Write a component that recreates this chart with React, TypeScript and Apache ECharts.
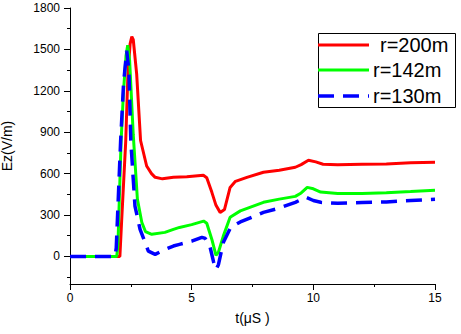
import React, { useEffect, useRef } from "react";
import * as echarts from "echarts";

const redT = [0, 2.0, 2.05, 2.12, 2.29, 2.38, 2.47, 2.54, 2.6, 2.74, 2.9, 3.15, 3.35, 3.5, 3.8, 4.25, 4.8, 5.48, 5.62, 5.83, 6.0, 6.17, 6.35, 6.58, 6.8, 7.27, 7.95, 8.6, 9.26, 9.5, 9.8, 10.1, 10.4, 11, 12, 13, 14, 15];
const redV = [0, 0, 0, 250, 834, 1321, 1540, 1592, 1570, 1321, 840, 655, 600, 573, 562, 573, 578, 588, 570, 464, 370, 319, 340, 500, 544, 573, 610, 625, 646, 665, 697, 685, 668, 665, 668, 670, 678, 682];

const greenT = [0, 1.92, 1.97, 2.1, 2.2, 2.3, 2.37, 2.45, 2.6, 2.77, 2.95, 3.1, 3.36, 3.9, 4.25, 4.5, 5.0, 5.49, 5.62, 5.83, 6.0, 6.1, 6.3, 6.58, 7.0, 7.95, 8.6, 9.26, 9.5, 9.75, 10.0, 10.3, 11, 12, 13, 14, 15];
const greenV = [0, 0, 80, 834, 1200, 1450, 1530, 1420, 880, 414, 247, 180, 160, 174, 196, 210, 230, 256, 240, 123, 8, 30, 147, 283, 330, 392, 415, 435, 460, 500, 490, 466, 455, 455, 462, 470, 479];

const blueT = [0, 1.85, 1.9, 2.08, 2.2, 2.33, 2.42, 2.5, 2.67, 2.88, 3.22, 3.5, 3.9, 4.25, 4.5, 5.0, 5.42, 5.56, 5.76, 5.9, 6.0, 6.1, 6.3, 6.6, 7.0, 7.95, 8.6, 9.26, 9.7, 10.0, 10.3, 11, 12, 13, 14, 15];
const blueV = [0, 0, 60, 834, 1250, 1490, 1350, 834, 365, 196, 38, 15, 50, 75, 87, 110, 138, 130, 65, -40, -95, -60, 100, 210, 250, 319, 350, 392, 428, 405, 392, 385, 390, 395, 405, 414];

const seriesNames = ["r=200m", "r=142m", "r=130m"];
const yMajorTicks = [0, 300, 600, 900, 1200, 1500, 1800];
const yMinorTicks = [-150, 150, 450, 750, 1050, 1350, 1650];

const pairs = (t: number[], v: number[]) => t.map((x, i) => [x, v[i]]);

const FONT = "'Liberation Sans', Arial, sans-serif";

export default function App() {
  const ref = useRef<HTMLDivElement>(null);
  useEffect(() => {
    if (!ref.current) return;
    const chart = echarts.init(ref.current, null, { renderer: "svg" });
    const yBase = {
      type: "value" as const,
      min: -200,
      max: 1800,
      position: "left" as const,
      splitLine: { show: false },
    };
    chart.setOption({
      animation: false,
      backgroundColor: "#fff",
      grid: { left: 70, right: 26, top: 8, bottom: 50, outerBoundsMode: "none", containLabel: false },
      xAxis: {
        type: "value",
        min: 0,
        max: 15,
        interval: 5,
        name: "t(\u03bcS )",
        nameLocation: "middle",
        nameGap: 27,
        nameTextStyle: { fontFamily: FONT, fontSize: 14, color: "#000" },
        axisLine: { onZero: false, lineStyle: { color: "#000", width: 1 } },
        axisTick: { length: 6, lineStyle: { color: "#000" } },
        minorTick: { show: true, splitNumber: 2, length: 3, lineStyle: { color: "#000" } },
        axisLabel: { fontFamily: FONT, fontSize: 12, color: "#000", margin: 8 },
        splitLine: { show: false },
      },
      yAxis: [
        {
          ...yBase,
          name: "Ez(V/m)",
          nameLocation: "middle",
          nameGap: 56,
          nameRotate: 90,
          nameTextStyle: { fontFamily: FONT, fontSize: 14, color: "#000" },
          axisLine: { show: true, onZero: false, lineStyle: { color: "#000", width: 1 } },
          axisTick: { show: true, length: 6, customValues: yMajorTicks, lineStyle: { color: "#000" } },
          axisLabel: {
            fontFamily: FONT,
            fontSize: 12,
            color: "#000",
            margin: 10,
            customValues: yMajorTicks,
            formatter: (v: number) => String(v),
          },
        },
        {
          ...yBase,
          axisLine: { show: false, onZero: false },
          axisTick: { show: true, length: 3, customValues: yMinorTicks, lineStyle: { color: "#000" } },
          axisLabel: { show: false, customValues: yMinorTicks },
        },
      ],
      series: [
        {
          name: seriesNames[0],
          type: "line",
          data: pairs(redT, redV),
          showSymbol: false,
          lineStyle: { color: "#ff0000", width: 3 },
        },
        {
          name: seriesNames[1],
          type: "line",
          data: pairs(greenT, greenV),
          showSymbol: false,
          lineStyle: { color: "#00ff00", width: 3 },
        },
        {
          name: seriesNames[2],
          type: "line",
          data: pairs(blueT, blueV),
          showSymbol: false,
          lineStyle: { color: "#0000ff", width: 3.5, type: [16, 9] },
        },
      ],
      graphic: [
        {
          type: "rect",
          shape: { x: 318.5, y: 33.5, width: 137, height: 74 },
          style: { fill: "#fff", stroke: "#000", lineWidth: 1 },
          z: 100,
        },
        { type: "line", shape: { x1: 318, y1: 45, x2: 369, y2: 45 }, style: { stroke: "#ff0000", lineWidth: 3 }, z: 101 },
        { type: "line", shape: { x1: 318, y1: 70, x2: 369, y2: 70 }, style: { stroke: "#00ff00", lineWidth: 3 }, z: 101 },
        { type: "line", shape: { x1: 318, y1: 96, x2: 369, y2: 96 }, style: { stroke: "#0000ff", lineWidth: 3.5, lineDash: [16, 9] }, z: 101 },
        { type: "text", x: 380, y: 45, style: { text: seriesNames[0], font: `20px ${FONT}`, fill: "#000", verticalAlign: "middle" }, z: 101 },
        { type: "text", x: 373, y: 70, style: { text: seriesNames[1], font: `20px ${FONT}`, fill: "#000", verticalAlign: "middle" }, z: 101 },
        { type: "text", x: 373, y: 96, style: { text: seriesNames[2], font: `20px ${FONT}`, fill: "#000", verticalAlign: "middle" }, z: 101 },
      ],
    });
    return () => chart.dispose();
  }, []);
  return <div ref={ref} style={{ position: "fixed", left: 0, top: 0, width: 461, height: 334 }} />;
}
